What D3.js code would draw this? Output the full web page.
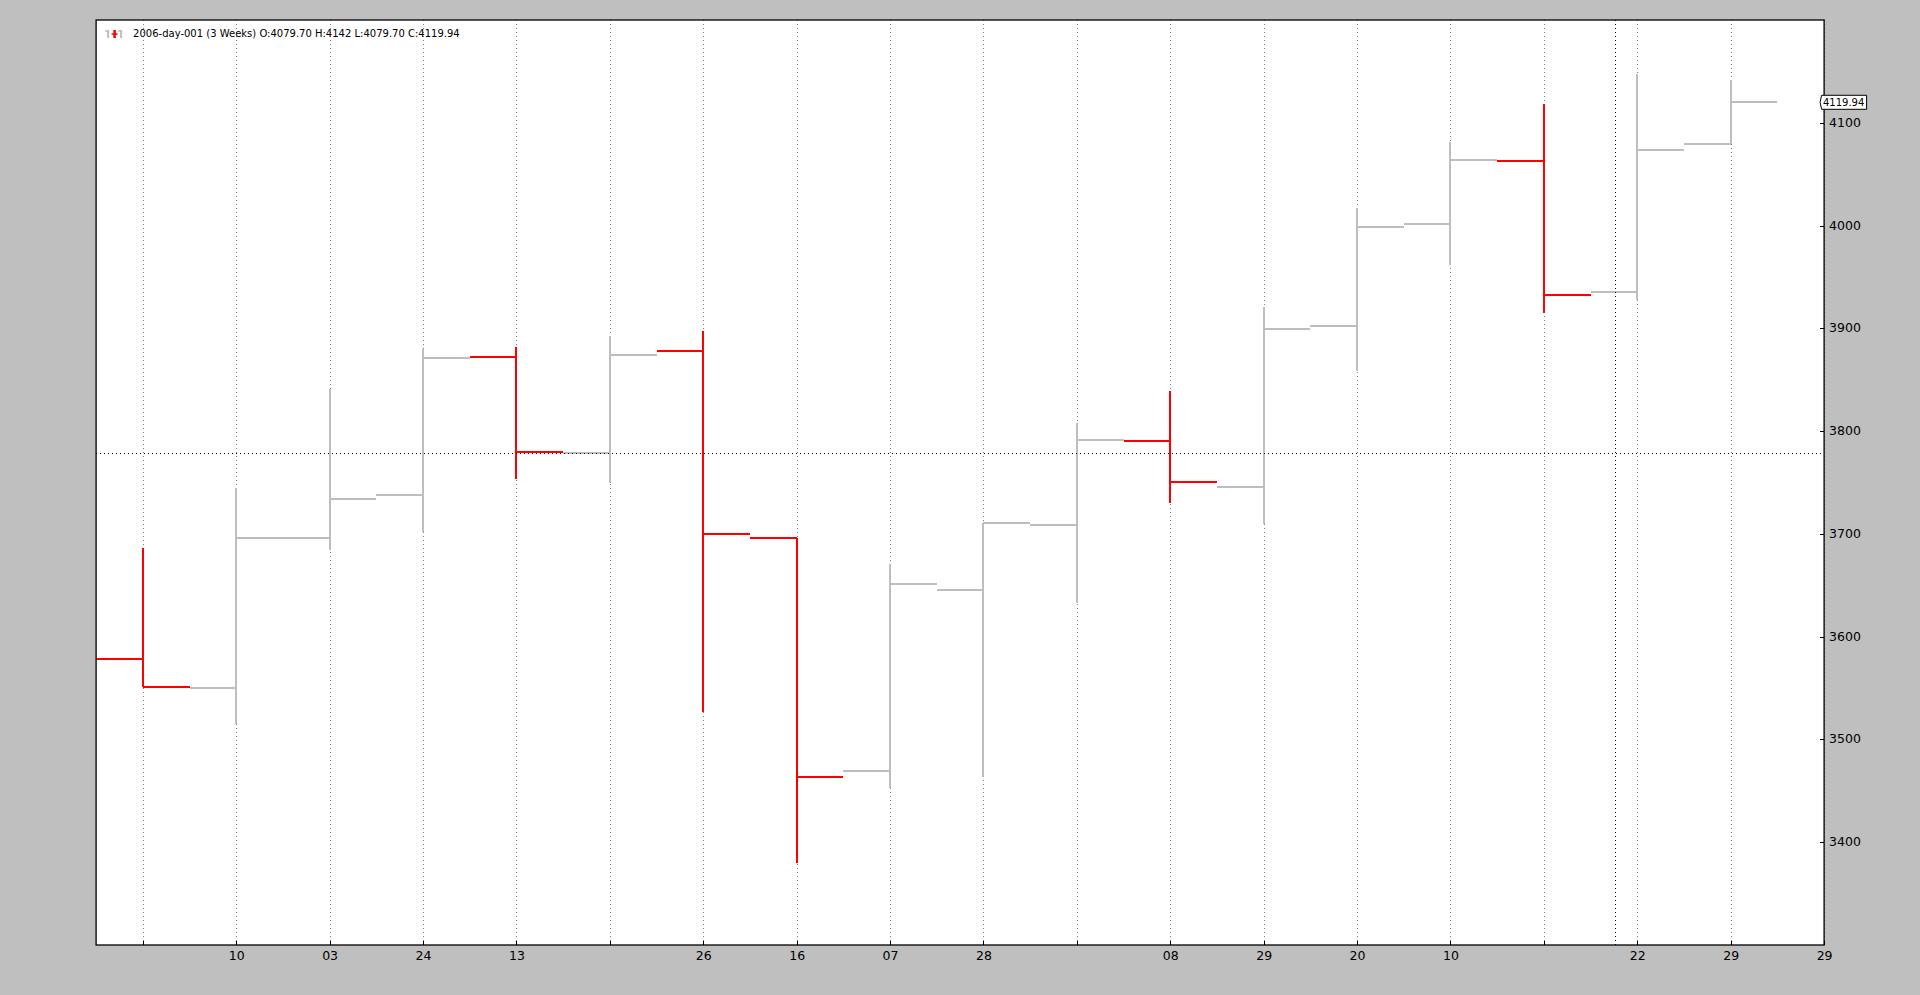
<!DOCTYPE html>
<html>
<head>
<meta charset="utf-8">
<script src="https://cdnjs.cloudflare.com/ajax/libs/d3/7.8.5/d3.min.js"></script>
<style>
  html, body { margin: 0; padding: 0; background: #bfbfbf; overflow: hidden; }
  svg { display: block; font-family: "DejaVu Sans", sans-serif; }
  .grid line { stroke: #808080; stroke-width: 1; stroke-dasharray: 1, 3; shape-rendering: crispEdges; }
  .axis path { display: none; }
  .axis line { stroke: #000; stroke-width: 1; shape-rendering: crispEdges; }
  .axis text { fill: #000; font-size: 12.5px; font-family: "DejaVu Sans", sans-serif; }
  .cursor { stroke: #000; stroke-width: 1; stroke-dasharray: 1, 3; shape-rendering: crispEdges; }
</style>
</head>
<body>
<div id="chart"></div>
<script>
// weekly bars
var opens  = [3578.3, 3550, 3696, 3738, 3872.4, 3778.8, 3878, 3696.1, 3469, 3645.5, 3708.7, 3790.4, 3745.6, 3902.6, 4001.8, 4063.1, 3935.7, 4079.7];
var highs  = [3686.3, 3745, 3841, 3879.6, 3882, 3892.9, 3897.4, 3696.1, 3670.7, 3710.7, 3807.6, 3839, 3920.5, 4017, 4081.3, 4118.3, 4147.5, 4142];
var lows   = [3551, 3515, 3684.4, 3701.6, 3753.4, 3749.6, 3526.7, 3380, 3452.9, 3463, 3633, 3730.4, 3709.7, 3858.8, 3961.7, 3914.6, 3927.6, 4079.7];
var closes = [3551, 3696, 3734, 3871.5, 3780, 3874, 3700, 3463.7, 3651, 3710.7, 3791.4, 3750.8, 3899.4, 3998.6, 4064, 3932.4, 4073.9, 4119.94];

var xTickValues = d3.range(0, 19);
var xTickLabels = ["", "10", "03", "24", "13", "", "26", "16", "07", "28", "", "08", "29", "20", "10", "", "22", "29", "29"];
var yTickValues = [3400, 3500, 3600, 3700, 3800, 3900, 4000, 4100];

var legendText = "2006-day-001 (3 Weeks) O:4079.70 H:4142 L:4079.70 C:4119.94";
var lastLabel = "4119.94";

// crosshair position
var cursorX = 15.77;
var cursorY = 3778.4;

var upColor = "#bebebe";
var downColor = "#ff0000";

var width = 1920;
var height = 995;
var margin = { top: 20, right: 95.9, bottom: 50, left: 96.1 };
var chartWidth = width - margin.left - margin.right;
var chartHeight = height - margin.top - margin.bottom;

var bars = opens.map(function(d, i) {
    return { i: i, open: d, high: highs[i], low: lows[i], close: closes[i] };
});

var svg = d3.select("#chart").append("svg")
    .attr("width", width)
    .attr("height", height);

var chartGroup = svg.append("g")
    .attr("transform", `translate(${margin.left}, ${margin.top})`);

chartGroup.append("rect")
    .attr("width", chartWidth)
    .attr("height", chartHeight)
    .attr("fill", "#fff");

var xScale = d3.scaleLinear().domain([-0.5, 18]).range([0, chartWidth]);
var yScale = d3.scaleLinear().domain([3300, 4200]).range([chartHeight, 0]);

// vertical grid only
chartGroup.append("g")
    .attr("class", "grid")
    .attr("transform", `translate(0, ${chartHeight})`)
    .call(d3.axisBottom(xScale).tickValues(xTickValues).tickSize(-chartHeight).tickFormat(""))
    .call(g => g.select(".domain").remove());

var barColor = d => d.close >= d.open ? upColor : downColor;
var halfBar = xScale(0.5) - xScale(0);

var barGroups = chartGroup.selectAll(".bar")
    .data(bars)
    .enter()
    .append("g")
    .attr("class", "bar")
    .attr("stroke", barColor)
    .attr("stroke-width", 2)
    .attr("shape-rendering", "crispEdges");

barGroups.append("line")
    .attr("x1", d => xScale(d.i))
    .attr("x2", d => xScale(d.i))
    .attr("y1", d => yScale(d.high))
    .attr("y2", d => yScale(d.low));

barGroups.append("line")
    .attr("x1", d => xScale(d.i) - halfBar)
    .attr("x2", d => xScale(d.i))
    .attr("y1", d => yScale(d.open))
    .attr("y2", d => yScale(d.open));

barGroups.append("line")
    .attr("x1", d => xScale(d.i))
    .attr("x2", d => xScale(d.i) + halfBar)
    .attr("y1", d => yScale(d.close))
    .attr("y2", d => yScale(d.close));

// crosshair
chartGroup.append("line")
    .attr("class", "cursor")
    .attr("x1", 0)
    .attr("x2", chartWidth)
    .attr("y1", yScale(cursorY))
    .attr("y2", yScale(cursorY));

chartGroup.append("line")
    .attr("class", "cursor")
    .attr("x1", xScale(cursorX))
    .attr("x2", xScale(cursorX))
    .attr("y1", 0)
    .attr("y2", chartHeight);

// axes, ticks point inward
var bottomAxis = d3.axisBottom(xScale)
    .tickValues(xTickValues)
    .tickSizeInner(-4)
    .tickPadding(6)
    .tickFormat((d, i) => xTickLabels[i]);

var rightAxis = d3.axisRight(yScale)
    .tickValues(yTickValues)
    .tickSizeInner(-4)
    .tickPadding(5)
    .tickFormat(d3.format("d"));

chartGroup.append("g")
    .attr("class", "axis")
    .attr("transform", `translate(0, ${chartHeight})`)
    .call(bottomAxis);

chartGroup.append("g")
    .attr("class", "axis")
    .attr("transform", `translate(${chartWidth}, 0)`)
    .call(rightAxis)
    .selectAll("text")
    .attr("dy", "0.28em");

chartGroup.append("rect")
    .attr("width", chartWidth)
    .attr("height", chartHeight)
    .attr("fill", "none")
    .attr("stroke", "#000")
    .attr("stroke-width", 1.3);

// legend
var iconX = d3.scaleLinear().domain([0, 2]).range([12, 25]);
var iconBars = [upColor, downColor, upColor];
var legend = chartGroup.append("g");

legend.selectAll("line")
    .data(iconBars)
    .enter()
    .append("line")
    .attr("x1", (d, i) => iconX(i))
    .attr("x2", (d, i) => iconX(i))
    .attr("y1", 10)
    .attr("y2", 18)
    .attr("stroke", d => d)
    .attr("stroke-width", (d, i) => i == 1 ? 2.5 : 2);

legend.selectAll(".cap")
    .data(iconBars)
    .enter()
    .append("line")
    .attr("class", "cap")
    .attr("x1", (d, i) => iconX(i) - 3)
    .attr("x2", (d, i) => iconX(i) + (i == 1 ? 3 : 0))
    .attr("y1", (d, i) => i == 1 ? 14 : 11)
    .attr("y2", (d, i) => i == 1 ? 14 : 11)
    .attr("stroke", d => d)
    .attr("stroke-width", 1.5);

legend.append("text")
    .attr("x", 37)
    .attr("y", 16.5)
    .attr("font-size", "10px")
    .attr("fill", "#000")
    .text(legendText);

// last value tag
var tagY = yScale(closes[closes.length - 1]);
var tag = chartGroup.append("g")
    .attr("transform", `translate(${chartWidth}, ${tagY})`);

tag.append("path")
    .attr("d", "M-4,0 L-2.5,-7 L42.5,-7 L42.5,7 L-2.5,7 Z")
    .attr("fill", "#fff")
    .attr("stroke", "#000")
    .attr("stroke-width", 1);

tag.append("text")
    .attr("x", 19.5)
    .attr("y", 3.5)
    .attr("text-anchor", "middle")
    .attr("font-size", "10px")
    .attr("fill", "#000")
    .text(lastLabel);
</script>
</body>
</html>
